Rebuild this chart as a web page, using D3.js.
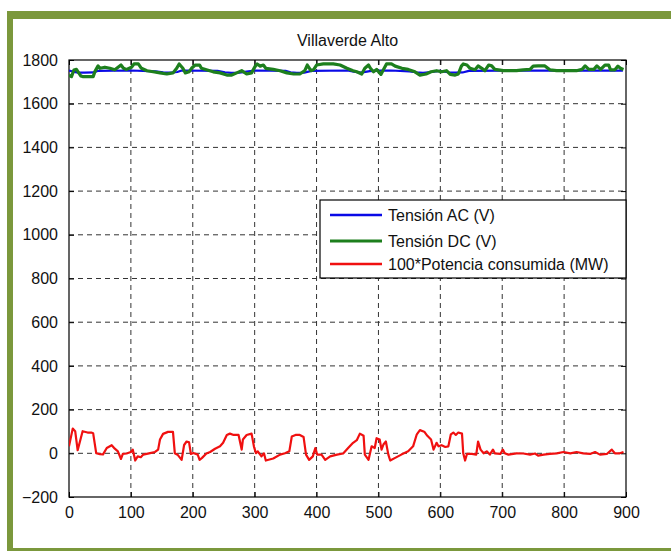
<!DOCTYPE html>
<html>
<head>
<meta charset="utf-8">
<script src="https://cdn.jsdelivr.net/npm/d3@7/dist/d3.min.js"></script>
<style>
html,body{margin:0;padding:0;background:#fff;}
svg{display:block;}
text{font-family:"Liberation Sans",Arial,sans-serif;fill:#111;}
</style>
</head>
<body>
<svg id="chart" width="671" height="551"></svg>
<script>
const title = "Villaverde Alto";
const xTicks = [0,100,200,300,400,500,600,700,800,900];
const yTicks = [-200,0,200,400,600,800,1000,1200,1400,1600,1800];
const seriesNames = ["Tensión AC (V)","Tensión DC (V)","100*Potencia consumida (MW)"];
const seriesColors = ["#0a0ae6","#1d7f1d","#f01010"];

const acT = [0,8,15,25,40,46,100,140,152,165,175,182,240,252,262,275,290,300,350,358,368,380,392,450,460,472,486,500,520,550,560,572,585,600,612,625,636,646,700,895];
const acV = [1752,1746,1742,1742,1743,1750,1752,1748,1744,1742,1745,1752,1750,1744,1741,1742,1748,1752,1750,1744,1741,1742,1750,1752,1747,1742,1749,1751,1752,1748,1744,1741,1745,1750,1744,1742,1743,1750,1751,1751];

const dcT = [0,4,8,12,19,22,39,42,47,50,58,66,74,84,88,93,101,105,112,117,126,136,147,158,168,174,178,184,188,194,198,204,211,214,222,233,244,255,263,271,279,287,295,301,304,309,314,318,330,341,352,363,373,381,385,391,395,400,411,427,438,449,459,465,473,478,484,487,492,497,504,508,513,521,527,538,548,559,567,577,585,594,602,610,616,624,629,634,637,643,648,656,661,667,672,678,683,688,702,723,734,745,750,758,769,777,788,804,820,829,834,840,848,853,859,866,872,875,882,887,891,896];
const dcV = [1731,1724,1754,1757,1727,1724,1724,1748,1773,1762,1767,1762,1755,1777,1762,1757,1767,1782,1782,1762,1751,1746,1741,1736,1741,1762,1782,1762,1741,1746,1762,1777,1777,1762,1755,1746,1741,1731,1731,1741,1751,1736,1741,1772,1782,1772,1777,1762,1757,1751,1741,1736,1736,1751,1777,1751,1755,1777,1782,1782,1777,1762,1751,1746,1736,1762,1777,1762,1746,1757,1734,1755,1782,1782,1772,1762,1757,1746,1731,1736,1746,1751,1746,1751,1734,1731,1736,1772,1782,1777,1762,1755,1773,1762,1751,1777,1773,1757,1751,1751,1755,1757,1772,1773,1773,1755,1751,1751,1751,1757,1773,1757,1757,1773,1757,1777,1777,1755,1755,1772,1762,1757];

const redT = [0,6,10,14,22,30,36,39,44,50,55,61,69,74,79,84,87,93,100,103,107,111,116,120,131,139,144,147,152,160,168,171,176,182,186,190,194,197,201,208,211,215,222,228,236,244,249,255,260,266,274,279,281,287,295,299,302,305,311,315,318,330,341,349,356,360,366,373,379,383,388,394,398,401,408,414,422,433,443,451,459,465,470,476,478,484,489,494,497,502,505,508,512,516,519,527,537,548,556,562,567,574,579,585,589,594,597,602,608,613,617,621,625,629,635,637,640,643,651,658,661,665,670,675,680,685,688,697,701,704,710,723,734,745,753,758,767,777,788,799,810,820,831,842,850,858,869,877,882,890,896];
const redV = [32,113,101,14,101,95,95,92,0,-4,-5,24,37,21,9,-26,-3,-1,6,17,-33,-14,-18,-6,1,6,17,63,89,98,98,0,-8,-30,38,54,50,-3,1,-6,-30,-21,-1,6,21,32,48,84,90,84,84,17,63,84,90,29,1,9,-14,0,-33,-24,-6,0,9,77,84,84,75,-6,-30,-14,24,-6,-6,-30,-14,-6,-1,24,48,60,90,80,-6,-30,32,24,69,63,17,40,54,-6,-33,-21,-6,9,32,87,106,99,80,63,17,48,32,37,29,32,87,95,84,95,90,0,-33,-3,-3,-6,54,17,0,9,-6,17,0,-3,17,0,-6,0,-1,-6,-1,-11,-6,-3,0,6,0,6,0,-3,6,-6,-3,17,0,0,6];

const svg = d3.select("#chart");
const W = 671, H = 551;
const border = "#7b983c";

// frame
svg.append("rect").attr("x",0).attr("y",0).attr("width",W).attr("height",H).attr("fill","#fff");
svg.append("rect").attr("x",7).attr("y",11).attr("width",W-7).attr("height",8).attr("fill",border);
svg.append("rect").attr("x",7).attr("y",11).attr("width",6).attr("height",H-11).attr("fill",border);
svg.append("rect").attr("x",7).attr("y",548).attr("width",W-7).attr("height",3).attr("fill",border);

const m = {left:69, right:626, top:60, bottom:497};
const x = d3.scaleLinear().domain([0,900]).range([m.left,m.right]);
const y = d3.scaleLinear().domain([-200,1800]).range([m.bottom,m.top]);
const fmt = d3.format("d");

// grid
const grid = svg.append("g");
grid.selectAll("line.v").data(xTicks.slice(1,-1)).enter().append("line")
  .attr("x1",d=>x(d)).attr("x2",d=>x(d)).attr("y1",m.top).attr("y2",m.bottom)
  .attr("stroke","#333").attr("stroke-width",1).attr("stroke-dasharray","5,4");
grid.selectAll("line.h").data(yTicks.slice(1,-1)).enter().append("line")
  .attr("y1",d=>y(d)).attr("y2",d=>y(d)).attr("x1",m.left).attr("x2",m.right)
  .attr("stroke","#333").attr("stroke-width",1).attr("stroke-dasharray","5,4");

// axes with inward ticks
const axB = svg.append("g").attr("transform",`translate(0,${m.bottom})`)
  .call(d3.axisBottom(x).tickValues(xTicks).tickFormat(fmt).tickSize(-5).tickPadding(10).tickSizeOuter(0));
const axT = svg.append("g").attr("transform",`translate(0,${m.top})`)
  .call(d3.axisTop(x).tickValues(xTicks).tickSize(-5).tickFormat("").tickSizeOuter(0));
const axL = svg.append("g").attr("transform",`translate(${m.left},0)`)
  .call(d3.axisLeft(y).tickValues(yTicks).tickFormat(fmt).tickSize(-5).tickPadding(11).tickSizeOuter(0));
const axR = svg.append("g").attr("transform",`translate(${m.right},0)`)
  .call(d3.axisRight(y).tickValues(yTicks).tickSize(-5).tickFormat("").tickSizeOuter(0));
[axB,axT,axL,axR].forEach(a=>{
  a.select(".domain").remove();
  a.selectAll(".tick line").attr("stroke","#000");
  a.selectAll("text").attr("font-family","Liberation Sans, Arial, sans-serif").attr("font-size",16).attr("fill","#111");
});
axB.selectAll("text").attr("dy","0.7em");

svg.append("rect").attr("x",m.left).attr("y",m.top).attr("width",m.right-m.left).attr("height",m.bottom-m.top)
  .attr("fill","none").attr("stroke","#000").attr("stroke-width",1.2);

// lines
const line = d3.line().x(d=>x(d[0])).y(d=>y(d[1]));
const clip = svg.append("clipPath").attr("id","clip").append("rect")
  .attr("x",m.left).attr("y",m.top-2).attr("width",m.right-m.left).attr("height",m.bottom-m.top+2);
const plot = svg.append("g").attr("clip-path","url(#clip)");
plot.append("path").datum(d3.zip(redT,redV)).attr("d",line).attr("fill","none")
  .attr("stroke",seriesColors[2]).attr("stroke-width",2.2).attr("stroke-linejoin","round");
plot.append("path").datum(d3.zip(acT,acV)).attr("d",line).attr("fill","none")
  .attr("stroke",seriesColors[0]).attr("stroke-width",2.2).attr("stroke-linejoin","round");
plot.append("path").datum(d3.zip(dcT,dcV)).attr("d",line).attr("fill","none")
  .attr("stroke",seriesColors[1]).attr("stroke-width",3.2).attr("stroke-linejoin","round");

// title
svg.append("text").attr("x",(m.left+m.right)/2).attr("y",46).attr("text-anchor","middle")
  .attr("font-size",16).text(title);

// legend
const lg = svg.append("g");
lg.append("rect").attr("x",320).attr("y",200).attr("width",306).attr("height",78)
  .attr("fill","#fff").attr("stroke","#000").attr("stroke-width",1.2);
const rows = [215,241,264];
seriesNames.forEach((n,i)=>{
  lg.append("line").attr("x1",330).attr("x2",382).attr("y1",rows[i]).attr("y2",rows[i])
    .attr("stroke",seriesColors[i]).attr("stroke-width",i===1?3.2:2.4);
  lg.append("text").attr("x",388).attr("y",rows[i]+6).attr("font-size",16).text(n);
});
</script>
</body>
</html>
